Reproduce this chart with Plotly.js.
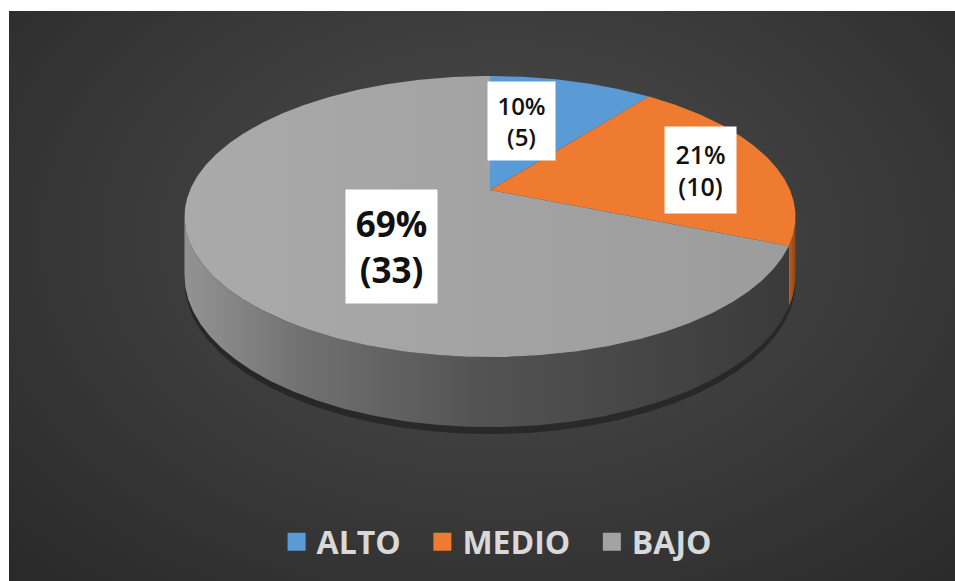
<!DOCTYPE html>
<html>
<head>
<meta charset="utf-8">
<script src="https://cdn.plot.ly/plotly-3.0.1.min.js"></script>
<style>
  html, body { margin: 0; padding: 0; background: #ffffff; width: 955px; height: 581px; overflow: hidden; }
  #bg { position: absolute; left: 9px; top: 11px; right: 0; bottom: 0;
        background: radial-gradient(ellipse farthest-corner at 52% 40%, #4e4e4e 0%, #3d3d3d 45%, #292929 100%); }
  #chart { position: absolute; left: 0; top: 0; width: 955px; height: 581px; }
</style>
</head>
<body>
<div id="bg"></div>
<div id="chart"></div>
<script>
// ---- data ----
const categories = ['ALTO', 'MEDIO', 'BAJO'];
const counts = [5, 10, 33];

// ---- styles ----
const topColors = ['#5b9bd5', '#ee7b2f', '#a3a3a3'];
const topGradients = [null, null, [[0, '#aaaaaa'], [1, '#9c9c9c']]];
const sideColors = [
  [[0, '#4a7fb0'], [1, '#2f5577']],
  [[0, '#c0601f'], [1, '#8a4416']],
  [[0, '#939393'], [0.2, '#707070'], [0.5, '#525252'], [1, '#3a3a3a']]
];

// ---- 3D pie geometry (perspective projection of a tilted disk) ----
const CX = 490, CY = 190;   // projected centre of the top face
const B = 300, A = 135.5;   // horizontal / vertical radii before perspective
const P = 0.189;            // perspective strength
const D = 56.8;             // thickness of the disk
function proj(deg, h) {
  const t = deg * Math.PI / 180;
  const u = Math.sin(t), v = Math.cos(t);
  const den = 1 + P * v;
  return [CX + B * u / den, CY - A * v / den + h * D / den];
}
function arc(a0, a1, h) {
  const n = Math.max(2, Math.ceil(Math.abs(a1 - a0) / 0.5));
  const xs = [], ys = [];
  for (let i = 0; i <= n; i++) {
    const p = proj(a0 + (a1 - a0) * i / n, h);
    xs.push(p[0]); ys.push(p[1]);
  }
  return [xs, ys];
}

const total = counts.reduce((s, v) => s + v, 0);
const starts = [], ends = [];
let acc = 0;
counts.forEach(v => { starts.push(acc / total * 360); acc += v; ends.push(acc / total * 360); });

const tR = Math.acos(-P) * 180 / Math.PI;  // right silhouette angle
const tL = 360 - tR;                         // left silhouette angle

const traces = [];

// shadow under the disk
{
  const [xs, ys] = arc(0, 360, 1.1);
  traces.push({ type: 'scatter', mode: 'lines', x: xs, y: ys, fill: 'toself',
    fillcolor: 'rgba(0,0,0,0.35)', line: { width: 0 }, hoverinfo: 'skip', showlegend: false });
}

// visible side walls
counts.forEach((v, i) => {
  const s0 = Math.max(starts[i], tR), s1 = Math.min(ends[i], tL);
  if (s0 >= s1) return;
  const top = arc(s0, s1, 0), bot = arc(s1, s0, 1);
  traces.push({ type: 'scatter', mode: 'lines',
    x: top[0].concat(bot[0]), y: top[1].concat(bot[1]), fill: 'toself',
    fillgradient: { type: 'horizontal', colorscale: sideColors[i] },
    line: { width: 0 }, hoverinfo: 'skip', showlegend: false });
});

// top faces
counts.forEach((v, i) => {
  const a = arc(starts[i], ends[i], 0);
  const t = { type: 'scatter', mode: 'lines',
    x: [CX].concat(a[0], [CX]), y: [CY].concat(a[1], [CY]), fill: 'toself',
    fillcolor: topColors[i], line: { width: 0 }, hoverinfo: 'skip', showlegend: false };
  if (topGradients[i]) t.fillgradient = { type: 'horizontal', colorscale: topGradients[i] };
  traces.push(t);
});

// legend entries (non-breaking spaces only widen the gap between entries)
categories.forEach((c, i) => {
  traces.push({ type: 'scatter', mode: 'markers', x: [null], y: [null],
    name: i < categories.length - 1 ? c + '\u00a0\u00a0' : c,
    marker: { symbol: 'square', size: 16, color: topColors[i], line: { width: 2, color: topColors[i] } },
    showlegend: true, hoverinfo: 'skip' });
});

// data labels
const labelText = counts.map(v => Math.round(v / total * 100) + '%<br>(' + v + ')');
const labelBoxes = [
  { x: 521.5, y: 121, w: 67, h: 78, size: 24, weight: 600 },
  { x: 700.5, y: 170, w: 71, h: 86, size: 25, weight: 600 },
  { x: 391.5, y: 246.5, w: 91, h: 113, size: 35, weight: 700 }
];
const annotations = labelBoxes.map((b, i) => ({
  xref: 'x', yref: 'y', x: b.x, y: b.y, xanchor: 'center', yanchor: 'middle',
  text: labelText[i],
  showarrow: false, bgcolor: '#ffffff', borderpad: 0, width: b.w, height: b.h,
  font: { family: 'Open Sans, sans-serif', size: b.size, color: '#111111', weight: b.weight }
}));

const layout = {
  width: 955, height: 581,
  margin: { l: 0, r: 0, t: 0, b: 0 },
  paper_bgcolor: 'rgba(0,0,0,0)', plot_bgcolor: 'rgba(0,0,0,0)',
  xaxis: { range: [0, 955], visible: false, fixedrange: true },
  yaxis: { range: [581, 0], visible: false, fixedrange: true },
  showlegend: true,
  legend: {
    orientation: 'h', x: 0.52, xanchor: 'center', y: 0.067, yanchor: 'middle',
    bgcolor: 'rgba(0,0,0,0)',
    font: { family: 'Open Sans, sans-serif', size: 32, color: '#d9d9d9', weight: 700 }
  },
  annotations: annotations
};

Plotly.newPlot('chart', traces, layout, { displayModeBar: false, staticPlot: true });
</script>
</body>
</html>
